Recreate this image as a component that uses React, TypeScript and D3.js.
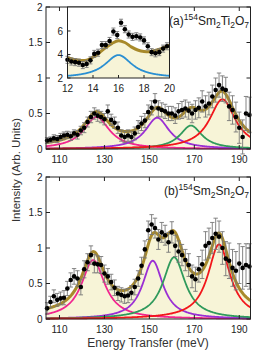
import * as d3 from 'd3'

// measurement grid (meV), shared by both samples
const energies = [
  104.5, 106, 107.5, 109, 110.5, 112, 113.5, 115, 116.5, 118, 119.5,
  121, 122.5, 124, 125.5, 127, 128.5, 130, 131.5, 133, 134.5,
  136, 137.5, 139, 140.5, 142, 143.5, 145, 146.5, 148, 149.5,
  151, 152.5, 154, 155.5, 157, 158.5, 160, 161.5, 163, 164.5,
  166, 167.5, 169, 170.5, 172, 173.5, 175, 176.5, 178, 179.5,
  181, 182.5, 184, 185.5, 187, 188.5, 190, 191.5, 193, 194.5,
]

// (a) Sm2Ti2O7
const intensityA = [
  0.12, 0.13, 0.15, 0.14, 0.17, 0.19, 0.2, 0.18, 0.22, 0.2, 0.26,
  0.3, 0.38, 0.45, 0.5, 0.47, 0.45, 0.42, 0.53, 0.41, 0.37,
  0.3, 0.19, 0.17, 0.19, 0.17, 0.22, 0.31, 0.36, 0.4, 0.52,
  0.58, 0.67, 0.57, 0.55, 0.53, 0.5, 0.5, 0.47, 0.53, 0.55,
  0.57, 0.54, 0.5, 0.55, 0.58, 0.67, 0.6, 0.64, 0.74, 0.83,
  0.9, 0.85, 0.83, 0.6, 0.55, 0.45, 0.3, 0.17, 0.5, 0.48,
]
const errorA = [
  0.04, 0.04, 0.05, 0.05, 0.05, 0.05, 0.05, 0.06, 0.05, 0.06, 0.06,
  0.07, 0.07, 0.08, 0.08, 0.08, 0.08, 0.08, 0.09, 0.08, 0.08,
  0.08, 0.08, 0.08, 0.08, 0.08, 0.09, 0.09, 0.1, 0.1, 0.1,
  0.1, 0.11, 0.11, 0.1, 0.1, 0.1, 0.1, 0.11, 0.11, 0.12,
  0.12, 0.12, 0.13, 0.13, 0.14, 0.15, 0.15, 0.16, 0.16, 0.17,
  0.17, 0.18, 0.18, 0.2, 0.2, 0.21, 0.22, 0.24, 0.24, 0.25,
]
const centersA = [126.5, 153.5, 168.5, 182.5]
const heightsA = [0.45, 0.44, 0.33, 0.7]
const widthsA = [7, 6.5, 6, 7]
const backgroundA = 0.035

// (b) Sm2Sn2O7
const intensityB = [
  0.15, 0.24, 0.32, 0.27, 0.29, 0.3, 0.43, 0.55, 0.6, 0.57, 0.45,
  0.7, 0.8, 0.9, 0.78, 0.77, 0.76, 0.64, 0.6, 0.52, 0.44,
  0.36, 0.34, 0.32, 0.33, 0.37, 0.45, 0.57, 0.75, 0.98, 1.25,
  1.33, 1.28, 1.12, 1.22, 1.18, 1.08, 1.22, 1.03, 0.95, 0.9,
  0.83, 0.76, 0.6, 0.56, 0.7, 0.77, 1.03, 1.07, 1.14, 1.2,
  1.16, 1.0, 0.85, 0.82, 0.72, 0.68, 0.78, 0.72, 0.76, 0.74,
]
const errorB = [
  0.08, 0.08, 0.09, 0.09, 0.09, 0.1, 0.1, 0.1, 0.11, 0.11, 0.11,
  0.12, 0.12, 0.13, 0.13, 0.12, 0.12, 0.12, 0.11, 0.11, 0.11,
  0.1, 0.1, 0.1, 0.1, 0.1, 0.11, 0.11, 0.12, 0.12, 0.13,
  0.14, 0.14, 0.14, 0.14, 0.14, 0.14, 0.15, 0.15, 0.15, 0.15,
  0.15, 0.16, 0.16, 0.17, 0.18, 0.2, 0.2, 0.21, 0.22, 0.22,
  0.22, 0.23, 0.24, 0.25, 0.26, 0.27, 0.28, 0.3, 0.3, 0.32,
]
const centersB = [125, 151.5, 161, 181]
const heightsB = [0.83, 0.82, 0.87, 1.05]
const widthsB = [6.3, 5.5, 6, 6]
const backgroundB = 0.05

const peakColors = ['#f2258f', '#9a2fd4', '#2f9a5c', '#f2161b']

// inset (low energy, Sm2Ti2O7)
const insetEnergies = [
  12.0, 12.3, 12.6, 12.9, 13.2, 13.5, 13.8, 14.1, 14.4, 14.7, 15.0, 15.3, 15.6, 15.9,
  16.2, 16.5, 16.8, 17.1, 17.4, 17.7, 18.0, 18.3, 18.6, 18.9, 19.2, 19.5, 19.8,
]
const insetIntensity = [
  3.55, 3.4, 3.35, 3.3, 3.1, 3.2, 3.5, 4.05, 4.15, 4.8, 4.8, 5.15, 5.95, 5.65,
  6.7, 6.15, 5.7, 5.5, 5.55, 5.45, 5.2, 4.7, 4.2, 4.1, 4.2, 4.5, 4.7,
]
const insetError = 0.3
const insetFitE = [12, 12.5, 13, 13.5, 14, 14.5, 15, 15.5, 16, 16.5, 17, 17.5, 18, 18.5, 19, 19.5, 20]
const insetFitI = [3.72, 3.58, 3.5, 3.52, 3.78, 4.15, 4.6, 4.95, 5.17, 5.02, 4.65, 4.38, 4.25, 4.26, 4.38, 4.57, 4.8]
const insetPeak = { center: 16, height: 1.95, width: 1.3, base: 2 }

const xTicks = [110, 130, 150, 170, 190]
const yTicks = [0, 0.5, 1, 1.5, 2]
const yTickLabels = ['0', '0.5', '1', '1.5', '2']
const insetXTicks = [12, 14, 16, 18, 20]
const insetYTicks = [2, 4, 6]

const font = '"Liberation Sans", Arial, Helvetica, sans-serif'
const fillColor = '#f7f4d7'
const totalColor = '#a88a2b'
const barColor = '#777'

const lorentz = (e: number, c: number, h: number, w: number) => h / (1 + ((e - c) / w) ** 2)

const x = d3.scaleLinear().domain([104, 195]).range([46, 250.5])
const fineGrid = d3.range(104, 195.001, 0.25)

type PanelProps = {
  top: number
  bottom: number
  values: number[]
  errors: number[]
  centers: number[]
  heights: number[]
  widths: number[]
  background: number
  tag: string
  middle: string
}

function Panel({ top, bottom, values, errors, centers, heights, widths, background, tag, middle }: PanelProps) {
  const y = d3.scaleLinear().domain([0, 2]).range([bottom, top])
  const total = fineGrid.map(e => [e, background + d3.sum(centers, (c, i) => lorentz(e, c, heights[i], widths[i]))] as [number, number])
  const line = d3.line<[number, number]>().x(d => x(d[0])).y(d => y(d[1]))
  const area = d3.area<[number, number]>().x(d => x(d[0])).y0(y(0)).y1(d => y(d[1]))
  const [x0, x1] = x.range()
  return (
    <g>
      <path d={area(total) || ''} fill={fillColor} />
      {centers.map((c, i) => (
        <path key={i} d={line(fineGrid.map(e => [e, lorentz(e, c, heights[i], widths[i])]))!} fill="none" stroke={peakColors[i]} strokeWidth={1.8} />
      ))}
      <path d={line(total)!} fill="none" stroke={totalColor} strokeWidth={3} />
      {energies.map((e, i) => {
        const cx = x(e), lo = y(values[i] - errors[i]), hi = y(values[i] + errors[i])
        return (
          <g key={i} stroke={barColor} strokeWidth={0.9}>
            <line x1={cx} x2={cx} y1={lo} y2={hi} />
            <line x1={cx - 2.2} x2={cx + 2.2} y1={lo} y2={lo} />
            <line x1={cx - 2.2} x2={cx + 2.2} y1={hi} y2={hi} />
          </g>
        )
      })}
      {energies.map((e, i) => <circle key={i} cx={x(e)} cy={y(values[i])} r={2.3} fill="#000" />)}
      <rect x={x0} y={top} width={x1 - x0} height={bottom - top} fill="none" stroke="#222" strokeWidth={1} />
      {xTicks.map(t => (
        <g key={t}>
          <line x1={x(t)} x2={x(t)} y1={bottom} y2={bottom - 4} stroke="#222" />
          <line x1={x(t)} x2={x(t)} y1={top} y2={top + 4} stroke="#222" />
          <text x={x(t)} y={bottom + 13.5} textAnchor="middle" fontSize={10} fill="#222">{t}</text>
        </g>
      ))}
      {yTicks.map((t, i) => (
        <g key={t}>
          <line x1={x0} x2={x0 + 4} y1={y(t)} y2={y(t)} stroke="#222" />
          <line x1={x1} x2={x1 - 4} y1={y(t)} y2={y(t)} stroke="#222" />
          <text x={42.5} y={y(t) + 3.6} textAnchor="end" fontSize={10} fill="#222">{yTickLabels[i]}</text>
        </g>
      ))}
      <text x={249} y={top + 17.5} textAnchor="end" fontSize={12} fill="#222">
        ({tag})<tspan dy={-4.5} fontSize={8.5}>154</tspan>
        <tspan dy={4.5}>Sm</tspan><tspan dy={3} fontSize={8.5}>2</tspan>
        <tspan dy={-3}>{middle}</tspan><tspan dy={3} fontSize={8.5}>2</tspan>
        <tspan dy={-3}>O</tspan><tspan dy={3} fontSize={8.5}>7</tspan>
      </text>
    </g>
  )
}

function Inset() {
  const ix = d3.scaleLinear().domain([12, 20]).range([67.5, 169.5])
  const iy = d3.scaleLinear().domain([2, 8.04]).range([78, 7])
  const fit = insetFitE.map((e, i) => [e, insetFitI[i]] as [number, number])
  const grid = d3.range(12, 20.001, 0.05)
  const peak = grid.map(e => [e, insetPeak.base + lorentz(e, insetPeak.center, insetPeak.height, insetPeak.width)] as [number, number])
  const line = d3.line<[number, number]>().x(d => ix(d[0])).y(d => iy(d[1])).curve(d3.curveCatmullRom)
  const area = d3.area<[number, number]>().x(d => ix(d[0])).y0(iy(2)).y1(d => iy(d[1])).curve(d3.curveCatmullRom)
  return (
    <g>
      <rect x={67.5} y={7} width={102} height={71} fill="#fff" />
      <path d={area(fit)!} fill={fillColor} />
      <path d={line(peak)!} fill="none" stroke="#2a8fd2" strokeWidth={1.8} />
      <path d={line(fit)!} fill="none" stroke={totalColor} strokeWidth={3} />
      {insetEnergies.map((e, i) => {
        const cx = ix(e), lo = iy(insetIntensity[i] - insetError), hi = iy(insetIntensity[i] + insetError)
        return (
          <g key={i} stroke={barColor} strokeWidth={0.9}>
            <line x1={cx} x2={cx} y1={lo} y2={hi} />
            <line x1={cx - 2} x2={cx + 2} y1={lo} y2={lo} />
            <line x1={cx - 2} x2={cx + 2} y1={hi} y2={hi} />
          </g>
        )
      })}
      {insetEnergies.map((e, i) => <circle key={i} cx={ix(e)} cy={iy(insetIntensity[i])} r={2.3} fill="#000" />)}
      <rect x={67.5} y={7} width={102} height={71} fill="none" stroke="#222" strokeWidth={1} />
      {insetXTicks.map(t => (
        <g key={t}>
          <line x1={ix(t)} x2={ix(t)} y1={78} y2={75} stroke="#222" />
          <text x={ix(t)} y={92} textAnchor="middle" fontSize={10} fill="#222">{t}</text>
        </g>
      ))}
      {insetYTicks.map(t => (
        <g key={t}>
          <line x1={67.5} x2={70.5} y1={iy(t)} y2={iy(t)} stroke="#222" />
          <text x={63} y={iy(t) + 3.6} textAnchor="end" fontSize={10} fill="#222">{t}</text>
        </g>
      ))}
    </g>
  )
}

export default function App() {
  return (
    <svg width={261} height={354} style={{ position: 'absolute', left: 0, top: 0, background: '#fff' }} fontFamily={font}>
      <Panel top={7} bottom={149} values={intensityA} errors={errorA} centers={centersA} heights={heightsA}
        widths={widthsA} background={backgroundA} tag="a" middle="Ti" />
      <Inset />
      <Panel top={177} bottom={319} values={intensityB} errors={errorB} centers={centersB} heights={heightsB}
        widths={widthsB} background={backgroundB} tag="b" middle="Sn" />
      <text transform="translate(19.5,170) rotate(-90)" textAnchor="middle" fontSize={11.5} fill="#333">Intensity (Arb. Units)</text>
      <text x={148} y={347} textAnchor="middle" fontSize={12} fill="#333">Energy Transfer (meV)</text>
    </svg>
  )
}
